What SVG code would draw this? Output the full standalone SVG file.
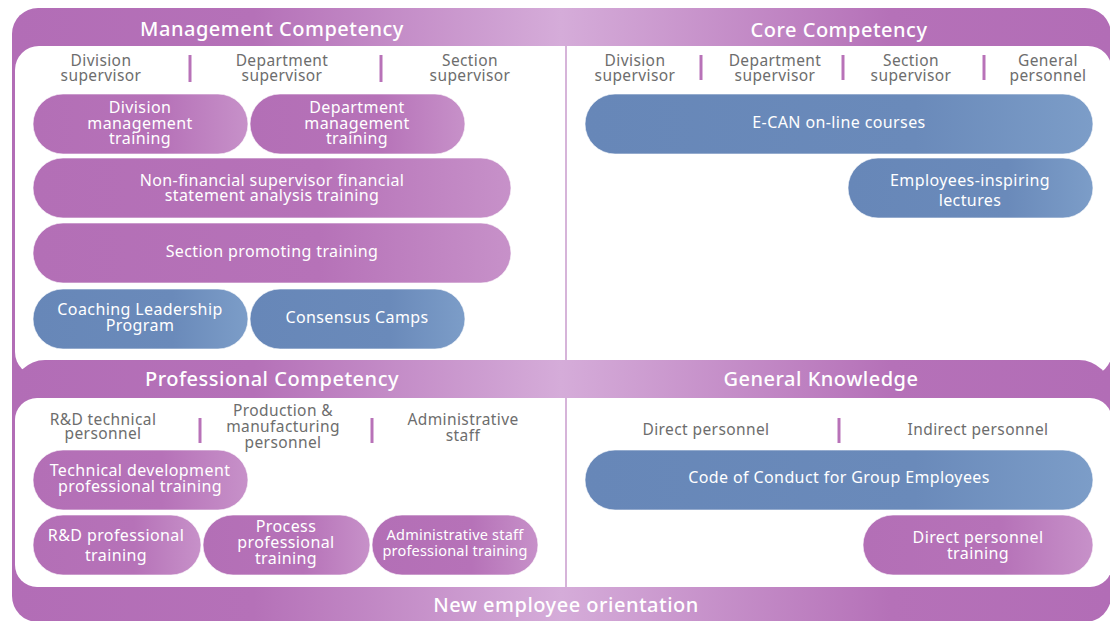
<svg xmlns="http://www.w3.org/2000/svg" width="1110" height="621" viewBox="0 0 1110 621">
<defs>
<linearGradient id="band" gradientUnits="userSpaceOnUse" x1="12" y1="0" x2="1110" y2="0">
<stop offset="0" stop-color="#b26db6"/>
<stop offset="0.22" stop-color="#b571b8"/>
<stop offset="0.5" stop-color="#d5acd9"/>
<stop offset="0.8" stop-color="#b571b8"/>
<stop offset="1" stop-color="#b26db6"/>
</linearGradient>
<linearGradient id="gp" x1="0" y1="0" x2="1" y2="0">
<stop offset="0" stop-color="#b36fb6"/>
<stop offset="0.6" stop-color="#b672b8"/>
<stop offset="1" stop-color="#c791c9"/>
</linearGradient>
<linearGradient id="gb" x1="0" y1="0" x2="1" y2="0">
<stop offset="0" stop-color="#6787b8"/>
<stop offset="0.65" stop-color="#6a8aba"/>
<stop offset="1" stop-color="#7c9dc8"/>
</linearGradient>
<style>
.hd{font-family:"Noto Sans","Liberation Sans",sans-serif;font-size:20px;font-weight:500;fill:#ffffff;text-anchor:middle;letter-spacing:0.5px}
.col{font-family:"Noto Sans","Liberation Sans",sans-serif;font-size:15.5px;fill:#6d6d6d;text-anchor:middle;letter-spacing:0.4px}
.pt{font-family:"Noto Sans","Liberation Sans",sans-serif;font-size:16px;fill:#ffffff;text-anchor:middle;letter-spacing:0.4px}
.ps{font-family:"Noto Sans","Liberation Sans",sans-serif;font-size:14.5px;fill:#ffffff;text-anchor:middle;letter-spacing:0.2px}
.pp{fill:url(#gp);stroke:#ffffff;stroke-opacity:0.6;stroke-width:1}
.pb{fill:url(#gb);stroke:#ffffff;stroke-opacity:0.6;stroke-width:1}
.tick{stroke:#b872b8;stroke-width:3}
.vline{stroke:#c99bcd;stroke-width:1.5}
</style>
</defs>
<g id="frame">
<rect x="12" y="8" width="1099" height="614" rx="26" fill="url(#band)"/>
<rect x="15" y="46" width="1097" height="330" rx="24" fill="#ffffff"/>
<rect x="13" y="360" width="1098" height="70" rx="32" fill="url(#band)"/>
<rect x="15" y="398" width="1097" height="189" rx="22" fill="#ffffff"/>
<line class="vline" x1="566" y1="46" x2="566" y2="360"/>
<line class="vline" x1="566" y1="398" x2="566" y2="587"/>
</g>
<g id="headers">
<text class="hd" x="272" y="36">Management Competency</text>
<text class="hd" x="839" y="37">Core Competency</text>
<text class="hd" x="272" y="386">Professional Competency</text>
<text class="hd" x="821" y="386">General Knowledge</text>
<text class="hd" x="566" y="612">New employee orientation</text>
</g>
<g id="columns">
<text class="col" x="101" y="65.5">Division</text><text class="col" x="101" y="80.5">supervisor</text>
<text class="col" x="282" y="65.5">Department</text><text class="col" x="282" y="80.5">supervisor</text>
<text class="col" x="470" y="65.5">Section</text><text class="col" x="470" y="80.5">supervisor</text>
<text class="col" x="635" y="65.5">Division</text><text class="col" x="635" y="80.5">supervisor</text>
<text class="col" x="775" y="65.5">Department</text><text class="col" x="775" y="80.5">supervisor</text>
<text class="col" x="911" y="65.5">Section</text><text class="col" x="911" y="80.5">supervisor</text>
<text class="col" x="1048" y="65.5">General</text><text class="col" x="1048" y="80.5">personnel</text>
<text class="col" x="103" y="425">R&amp;D technical</text><text class="col" x="103" y="439">personnel</text>
<text class="col" x="283" y="416">Production &amp;</text><text class="col" x="283" y="432">manufacturing</text><text class="col" x="283" y="448">personnel</text>
<text class="col" x="463" y="425">Administrative</text><text class="col" x="463" y="441">staff</text>
<text class="col" x="706" y="435">Direct personnel</text>
<text class="col" x="978" y="435">Indirect personnel</text>
</g>
<g id="connectors">
<line class="tick" x1="190" y1="55" x2="190" y2="82"/>
<line class="tick" x1="381" y1="55" x2="381" y2="82"/>
<line class="tick" x1="701" y1="55" x2="701" y2="80"/>
<line class="tick" x1="843" y1="55" x2="843" y2="80"/>
<line class="tick" x1="984" y1="55" x2="984" y2="80"/>
<line class="tick" x1="200" y1="418" x2="200" y2="443"/>
<line class="tick" x1="372" y1="418" x2="372" y2="443"/>
<line class="tick" x1="839" y1="418" x2="839" y2="443"/>
</g>
<g id="n1"><rect class="pp" x="33" y="94" width="215" height="60" rx="30"/><text class="pt" x="140" y="113">Division</text><text class="pt" x="140" y="129">management</text><text class="pt" x="140" y="144">training</text></g>
<g id="n2"><rect class="pp" x="250" y="94" width="215" height="60" rx="30"/><text class="pt" x="357" y="113">Department</text><text class="pt" x="357" y="129">management</text><text class="pt" x="357" y="144">training</text></g>
<g id="n3"><rect class="pp" x="33" y="158" width="478" height="60" rx="30"/><text class="pt" x="272" y="186">Non-financial supervisor financial</text><text class="pt" x="272" y="201">statement analysis training</text></g>
<g id="n4"><rect class="pp" x="33" y="223" width="478" height="60" rx="30"/><text class="pt" x="272" y="257">Section promoting training</text></g>
<g id="n5"><rect class="pb" x="33" y="289" width="215" height="60" rx="30"/><text class="pt" x="140" y="315">Coaching Leadership</text><text class="pt" x="140" y="331">Program</text></g>
<g id="n6"><rect class="pb" x="250" y="289" width="215" height="60" rx="30"/><text class="pt" x="357" y="323">Consensus Camps</text></g>
<g id="n7"><rect class="pb" x="585" y="94" width="508" height="60" rx="30"/><text class="pt" x="839" y="128">E-CAN on-line courses</text></g>
<g id="n8"><rect class="pb" x="848" y="158" width="245" height="60" rx="30"/><text class="pt" x="970" y="186">Employees-inspiring</text><text class="pt" x="970" y="206">lectures</text></g>
<g id="n9"><rect class="pp" x="33" y="450" width="215" height="60" rx="30"/><text class="pt" x="140" y="476">Technical development</text><text class="pt" x="140" y="492">professional training</text></g>
<g id="n10"><rect class="pp" x="33" y="515" width="168" height="60" rx="30"/><text class="pt" x="116" y="541">R&amp;D professional</text><text class="pt" x="116" y="561">training</text></g>
<g id="n11"><rect class="pp" x="203" y="515" width="167" height="60" rx="30"/><text class="pt" x="286" y="532">Process</text><text class="pt" x="286" y="548">professional</text><text class="pt" x="286" y="564">training</text></g>
<g id="n12"><rect class="pp" x="372" y="515" width="166" height="60" rx="30"/><text class="ps" x="455" y="540">Administrative staff</text><text class="ps" x="455" y="556">professional training</text></g>
<g id="n13"><rect class="pb" x="585" y="450" width="508" height="60" rx="30"/><text class="pt" x="839" y="483">Code of Conduct for Group Employees</text></g>
<g id="n14"><rect class="pp" x="863" y="515" width="230" height="60" rx="30"/><text class="pt" x="978" y="543">Direct personnel</text><text class="pt" x="978" y="559">training</text></g>
</svg>
